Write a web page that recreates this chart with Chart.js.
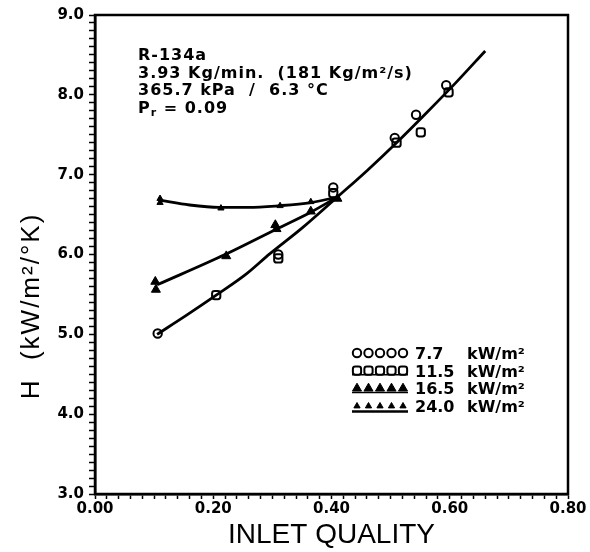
<!DOCTYPE html>
<html><head><meta charset="utf-8">
<script src="https://cdn.jsdelivr.net/npm/chart.js@4/dist/chart.umd.min.js"></script>
<style>html,body{margin:0;padding:0;background:#fff}canvas{display:block}</style>
</head><body>
<canvas id="c" width="590" height="552"></canvas>
<script>
// ---- tick labels ----
const xTickValues = [0.0, 0.2, 0.4, 0.6, 0.8];
const xTickLabels = ['0.00', '0.20', '0.40', '0.60', '0.80'];
const yTickValues = [3, 4, 5, 6, 7, 8, 9];
const yTickLabels = ['3.0', '4.0', '5.0', '6.0', '7.0', '8.0', '9.0'];

// ---- measured points (inlet quality, H) ----
const q77 = [0.106, 0.310, 0.403, 0.507, 0.543, 0.594];
const h77 = [5.01, 6.00, 6.84, 7.46, 7.75, 8.12];
const q115 = [0.205, 0.310, 0.403, 0.510, 0.551, 0.598];
const h115 = [5.49, 5.95, 6.77, 7.40, 7.53, 8.03];
const q165 = [0.102, 0.103, 0.222, 0.305, 0.307, 0.365, 0.410];
const h165 = [5.66, 5.56, 5.98, 6.37, 6.32, 6.54, 6.70];
const q240 = [0.110, 0.110, 0.213, 0.313, 0.365, 0.410];
const h240 = [6.70, 6.65, 6.58, 6.61, 6.66, 6.71];

// ---- fitted curves ----
const qFit77 = [0.105, 0.155, 0.205, 0.255, 0.296, 0.350, 0.410];
const hFit77 = [5.00, 5.24, 5.49, 5.75, 6.01, 6.33, 6.72];
const qFit165 = [0.105, 0.220, 0.310, 0.365, 0.410];
const hFit165 = [5.62, 6.00, 6.33, 6.53, 6.72];
const qFit240 = [0.110, 0.160, 0.210, 0.260, 0.310, 0.365, 0.410];
const hFit240 = [6.68, 6.62, 6.59, 6.59, 6.61, 6.65, 6.72];
const qFitHigh = [0.410, 0.460, 0.510, 0.560, 0.610, 0.660];
const hFitHigh = [6.72, 7.05, 7.40, 7.77, 8.15, 8.55];

// ---- texts ----
const fluxLabels = ['7.7', '11.5', '16.5', '24.0'];
const fluxUnit = 'kW/m²';
const noteLines = ['R-134a', '3.93 Kg/min.  (181 Kg/m²/s)', '365.7 kPa  /  6.3 °C'];
const noteSub = ['P', 'r', ' = 0.09'];
const xTitle = 'INLET QUALITY';
const yTitle = 'H  (kW/m²/°K)';

const pts = (xs, ys) => xs.map((x, i) => ({x: x, y: ys[i]}));
const findLabel = (v, vals, labs) => { const i = vals.findIndex(t => Math.abs(t - v) < 1e-6); return i >= 0 ? labs[i] : ''; };

const markerStyles = [
  {pointStyle: 'circle', radius: 4.2, borderWidth: 2, fill: 'rgba(255,255,255,0)'},
  {pointStyle: 'rectRounded', radius: 4.8, borderWidth: 2, fill: 'rgba(255,255,255,0)'},
  {pointStyle: 'triangle', radius: 5.2, borderWidth: 1, fill: '#000'},
  {pointStyle: 'triangle', radius: 3.6, borderWidth: 1, fill: '#000'}
];

function curve(xs, ys) {
  return {type: 'line', data: pts(xs, ys), showLine: true, borderColor: '#000', borderWidth: 2.8,
    pointRadius: 0, cubicInterpolationMode: 'monotone', fill: false};
}
function marks(xs, ys, s) {
  return {type: 'scatter', data: pts(xs, ys), showLine: false, pointStyle: s.pointStyle,
    pointRadius: s.radius, pointBorderWidth: s.borderWidth, pointBorderColor: '#000', pointBackgroundColor: s.fill};
}

const FONT = "'DejaVu Sans', sans-serif";
const TFONT = "'Liberation Sans', Arial, sans-serif";

const overlay = {
  id: 'overlay',
  afterDatasetsDraw(chart) {
    const ctx = chart.ctx, a = chart.chartArea;
    ctx.save();
    ctx.strokeStyle = '#000'; ctx.lineWidth = 2.5;
    ctx.strokeRect(a.left, a.top, a.right - a.left, a.bottom - a.top);
    ctx.fillStyle = '#000';
    ctx.textBaseline = 'alphabetic'; ctx.textAlign = 'left';
    // annotation block
    ctx.font = 'bold 16px ' + FONT;
    ctx.letterSpacing = '1px';
    const nx = 138, ny0 = 60, ndy = 17.5;
    noteLines.forEach((t, i) => ctx.fillText(t, nx, ny0 + i * ndy));
    let y4 = ny0 + 3 * ndy, x = nx;
    ctx.fillText(noteSub[0], x, y4); x += ctx.measureText(noteSub[0]).width;
    ctx.font = 'bold 11px ' + FONT;
    ctx.fillText(noteSub[1], x, y4 + 3); x += ctx.measureText(noteSub[1]).width;
    ctx.font = 'bold 16px ' + FONT;
    ctx.fillText(noteSub[2], x, y4);
    // legend
    ctx.letterSpacing = '0px';
    const lx = 357, ly0 = 353, ldy = 17.7, step = 11.5;
    fluxLabels.forEach((lab, r) => {
      const cy = ly0 + r * ldy;
      const s = markerStyles[r];
      for (let k = 0; k < 5; k++) {
        ctx.fillStyle = s.fill; ctx.strokeStyle = '#000'; ctx.lineWidth = s.borderWidth;
        Chart.helpers.drawPoint(ctx, {pointStyle: s.pointStyle, radius: s.radius, borderWidth: s.borderWidth, rotation: 0}, lx + k * step, cy);
      }
      if (r > 0) {
        ctx.beginPath(); ctx.lineWidth = r === 3 ? 2.5 : 1.5;
        const by = cy + (r === 3 ? 5.5 : 4);
        ctx.moveTo(lx - 5, by); ctx.lineTo(lx + 4 * step + 5, by); ctx.stroke();
      }
      ctx.fillStyle = '#000';
      ctx.font = 'bold 16px ' + FONT;
      ctx.fillText(lab, 415, cy + 6);
      ctx.fillText(fluxUnit, 467, cy + 6);
    });
    // y axis title
    ctx.save();
    ctx.translate(32, 306);
    ctx.rotate(-Math.PI / 2);
    ctx.textAlign = 'center'; ctx.textBaseline = 'middle';
    ctx.font = '26px ' + TFONT;
    ctx.letterSpacing = '2px';
    ctx.fillText(yTitle, 0, 0);
    ctx.restore();
    ctx.restore();
  }
};

new Chart(document.getElementById('c'), {
  type: 'scatter',
  data: {datasets: [
    curve(qFit77, hFit77), curve(qFit165, hFit165), curve(qFit240, hFit240), curve(qFitHigh, hFitHigh),
    marks(q77, h77, markerStyles[0]), marks(q115, h115, markerStyles[1]),
    marks(q165, h165, markerStyles[2]), marks(q240, h240, markerStyles[3])
  ]},
  options: {
    responsive: false, animation: false,
    layout: {padding: {top: 15, right: 22, left: 0, bottom: 0}},
    plugins: {legend: {display: false}, tooltip: {enabled: false}},
    scales: {
      x: {type: 'linear', min: 0, max: 0.8,
        ticks: {stepSize: 0.02, autoSkip: false, maxRotation: 0, minRotation: 0, padding: 1, color: '#000',
          font: {family: FONT, size: 15, weight: 'bold'},
          callback: v => findLabel(v, xTickValues, xTickLabels)},
        grid: {drawOnChartArea: false, tickLength: 5, tickColor: '#000', tickWidth: 1.5},
        border: {color: '#000', width: 2.5},
        title: {display: true, text: xTitle, color: '#000', font: {family: TFONT, size: 28}, padding: {top: 0, bottom: 0}},
        afterFit: s => { s.height = 58; }
      },
      y: {type: 'linear', min: 3, max: 9,
        ticks: {stepSize: 0.1, autoSkip: false, padding: 5, color: '#000',
          font: {family: FONT, size: 15, weight: 'bold'},
          callback: v => findLabel(v, yTickValues, yTickLabels)},
        grid: {drawOnChartArea: false, tickLength: 6, tickColor: '#000', tickWidth: 1.5},
        border: {color: '#000', width: 2.5},
        title: {display: false},
        afterFit: s => { s.width = 95; }
      }
    }
  },
  plugins: [overlay]
});
</script>
</body></html>
